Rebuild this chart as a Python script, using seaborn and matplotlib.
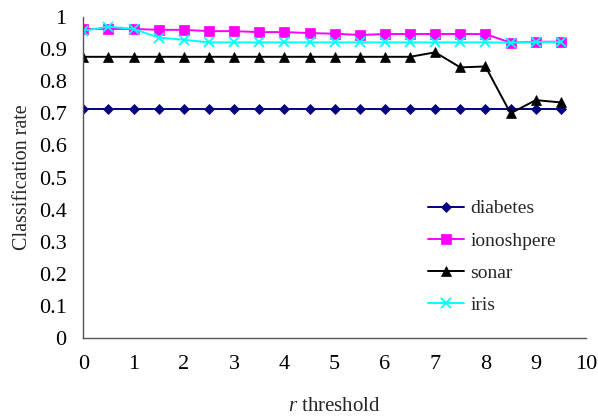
import numpy as np
import pandas as pd
import matplotlib
matplotlib.use("Agg")
import matplotlib.pyplot as plt
import seaborn as sns

thresholds = [0, 0.5, 1, 1.5, 2, 2.5, 3, 3.5, 4, 4.5, 5, 5.5, 6, 6.5, 7, 7.5, 8, 8.5, 9, 9.5]
diabetes = [0.714] * 20
ionoshpere = [0.963, 0.963, 0.963, 0.960, 0.960, 0.956, 0.956, 0.953, 0.953, 0.950,
              0.948, 0.944, 0.947, 0.947, 0.947, 0.947, 0.947, 0.920, 0.923, 0.923]
sonar = [0.876, 0.876, 0.876, 0.876, 0.876, 0.876, 0.876, 0.876, 0.876, 0.876,
         0.876, 0.876, 0.876, 0.876, 0.890, 0.843, 0.846, 0.700, 0.741, 0.734]
iris = [0.957, 0.970, 0.963, 0.936, 0.929, 0.921, 0.921, 0.921, 0.921, 0.921,
        0.921, 0.921, 0.921, 0.921, 0.921, 0.921, 0.921, 0.920, 0.922, 0.922]
series_names = ["diabetes", "ionoshpere", "sonar", "iris"]
x_ticks = list(range(0, 11))
y_ticks = [0, 0.1, 0.2, 0.3, 0.4, 0.5, 0.6, 0.7, 0.8, 0.9, 1]
y_tick_labels = ["0", "0.1", "0.2", "0.3", "0.4", "0.5", "0.6", "0.7", "0.8", "0.9", "1"]

df = pd.DataFrame({
    "x": thresholds * 4,
    "y": diabetes + ionoshpere + sonar + iris,
    "series": sum([[n] * len(thresholds) for n in series_names], []),
})

sns.set_theme(style="white")
plt.rcParams["font.family"] = ["Liberation Serif", "DejaVu Serif"]
plt.rcParams["mathtext.fontset"] = "custom"
plt.rcParams["mathtext.it"] = "Liberation Serif:italic"
plt.rcParams["mathtext.rm"] = "Liberation Serif"

fig = plt.figure(figsize=(5.98, 4.16), dpi=100)
ax = fig.add_axes([0.1393, 0.1875, 0.8406, 0.7716])

palette = {"diabetes": "#000080", "ionoshpere": "#FF00FF", "sonar": "#000000", "iris": "#00FFFF"}
markers = {"diabetes": "D", "ionoshpere": "s", "sonar": "^", "iris": "x"}
sizes = {"diabetes": 5.5, "ionoshpere": 7, "sonar": 7.5, "iris": 7}

for name in series_names:
    sub = df[df["series"] == name]
    sns.lineplot(data=sub, x="x", y="y", ax=ax, color=palette[name],
                 marker=markers[name], markersize=sizes[name],
                 markeredgecolor=palette[name], markeredgewidth=1.3 if name == "iris" else 0.5,
                 linewidth=1.4, label=name, estimator=None, errorbar=None)

ax.set_xlim(0, 10)
ax.set_ylim(0, 1)
ax.set_xticks(x_ticks)
ax.set_yticks(y_ticks)
ax.set_yticklabels(y_tick_labels)
for s in ["top", "right"]:
    ax.spines[s].set_visible(False)
for s in ["left", "bottom"]:
    ax.spines[s].set_color("#555555")
    ax.spines[s].set_linewidth(1.0)
ax.tick_params(axis="both", direction="in", length=4, width=1.0, color="#555555",
               labelsize=16, colors="#000000")
ax.tick_params(axis="x", pad=12)
ax.tick_params(axis="y", pad=12)
ax.set_xlabel(r"$\mathit{r}$ threshold", fontsize=15, labelpad=17)
ax.set_ylabel("Classification rate", fontsize=14.5, labelpad=5)

leg = ax.legend(loc="upper left", bbox_to_anchor=(0.65, 0.485), frameon=False,
                fontsize=14, handlelength=1.9, labelspacing=0.75, handletextpad=0.3)

fig.savefig("out.png", dpi=100)
